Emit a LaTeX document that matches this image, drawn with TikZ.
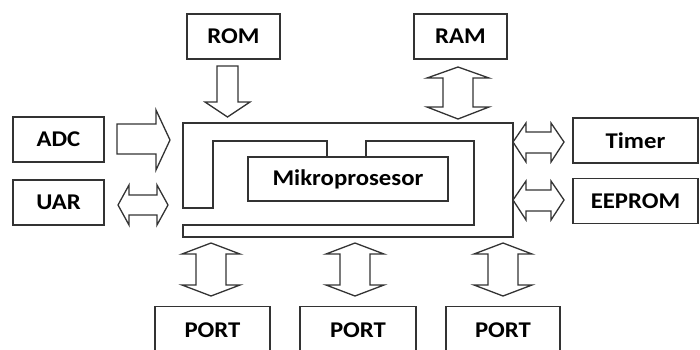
\documentclass[tikz,border=0pt]{standalone}
\usepackage{fontspec}
\setmainfont{Carlito}[FakeStretch=1.1]
\begin{document}
\begin{tikzpicture}[x=1pt,y=-1pt,
  line join=miter,
  ln/.style={draw=black!80,line width=1.3pt},
  txt/.style={font=\fontsize{22.5}{25}\selectfont\bfseries},
  blk/.style={ln,rectangle,minimum height=45pt,inner sep=0pt,txt},
  arr/.style={ln,fill=white}]
\useasboundingbox (0,0) rectangle (700,349);
% boxes
\node[blk,minimum width=93pt]  (rom)  at (233.5,36.5) {ROM};
\node[blk,minimum width=93pt]  (ram)  at (460.5,36.5) {RAM};
\node[blk,minimum width=91pt]  (adc)  at (58.5,139.5) {ADC};
\node[blk,minimum width=91pt]  (uar)  at (58.5,202.5) {UAR};
\node[blk,minimum width=125pt] (tim)  at (635.5,140.5) {Timer};
\node[blk,minimum width=125pt] (eep)  at (635.5,201) {EEPROM};
\node[blk,minimum width=115pt,minimum height=48pt,anchor=north] (p1) at (212.5,306) {};
\node[blk,minimum width=116pt,minimum height=48pt,anchor=north] (p2) at (358,306) {};
\node[blk,minimum width=114pt,minimum height=48pt,anchor=north] (p3) at (503,306) {};
\node[txt] (t1) at (212.5,330) {PORT};
\node[txt] (t2) at (358,330) {PORT};
\node[txt] (t3) at (503,330) {PORT};
% microprocessor
\node[ln,rectangle,minimum width=200pt,minimum height=44pt,inner sep=0pt,txt] (mp) at (348,179) {Mikroprosesor};
\draw[ln] (366,157) -- (366,141) -- (474,141) -- (474,225) -- (183,225) -- (183,237) -- (513,237) -- (513,123) -- (183,123) -- (183,208) -- (213,208) -- (213,141) -- (327,141) -- (327,157);
% ROM arrow (down)
\draw[arr] (217,66) -- (238,66) -- (238,102) -- (250,102) -- (227.5,117) -- (205,102) -- (217,102) -- cycle;
% RAM double arrow
\draw[arr] (458,67) -- (489,78) -- (473,78) -- (473,107) -- (489,107) -- (458,119) -- (427,107) -- (443,107) -- (443,78) -- (427,78) -- cycle;
% ADC arrow (right)
\draw[arr] (117,124) -- (156,124) -- (156,110) -- (170,140) -- (156,170) -- (156,154) -- (117,154) -- cycle;
% UAR double arrow
\draw[arr] (118,205) -- (129,185) -- (129,195) -- (157,195) -- (157,185) -- (168,205) -- (157,225) -- (157,215) -- (129,215) -- (129,225) -- cycle;
% Timer double arrow
\draw[arr] (513,142) -- (526,123) -- (526,132) -- (551,132) -- (551,123) -- (564,142) -- (551,162) -- (551,153) -- (526,153) -- (526,162) -- cycle;
% EEPROM double arrow
\draw[arr] (513,200) -- (526,181) -- (526,190) -- (551,190) -- (551,181) -- (564,200) -- (551,220) -- (551,211) -- (526,211) -- (526,220) -- cycle;
% PORT double arrows
\foreach \cx in {211,355,503}{
  \draw[arr] (\cx,243) -- ({\cx+29},254) -- ({\cx+15},254) -- ({\cx+15},285) -- ({\cx+29},285) -- (\cx,296) -- ({\cx-29},285) -- ({\cx-15},285) -- ({\cx-15},254) -- ({\cx-29},254) -- cycle;
}
\end{tikzpicture}
\end{document}
